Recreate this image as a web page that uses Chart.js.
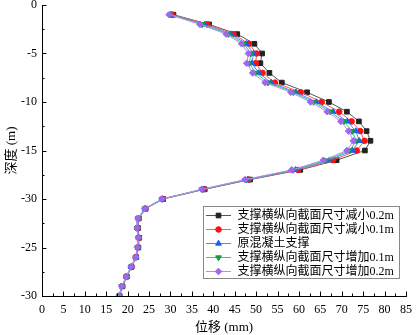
<!DOCTYPE html>
<html>
<head>
<meta charset="utf-8">
<script src="https://cdn.jsdelivr.net/npm/chart.js@4/dist/chart.umd.min.js"></script>
<style>
  html, body { margin: 0; padding: 0; background: #fff; }
  #wrap { width: 416px; height: 335px; position: relative; }
</style>
</head>
<body>
<div id="wrap"><canvas id="chart"></canvas></div>
<script>
// 深度 (m)
const depths = [-1, -2, -3, -4, -5, -6, -7, -8, -9, -10, -11, -12, -13, -14, -15,
  -16, -17, -18, -19, -20, -21, -22, -23, -24, -25, -26, -27, -28, -29, -30];

// 位移 (mm) для каждой серии
const minus02 = [30.7, 39.0, 45.6, 49.6, 51.4, 51.0, 53.1, 56.0, 61.9, 67.0, 71.2, 74.0, 75.8, 76.7, 75.4,
  68.8, 60.3, 48.6, 38.0, 28.3, 24.2, 22.6, 22.4, 22.7, 22.5, 22.0, 20.9, 19.8, 18.8, 18.1];
const minus01 = [30.4, 38.6, 44.7, 48.3, 50.1, 49.9, 51.5, 54.4, 60.4, 65.3, 69.4, 72.3, 74.3, 75.3, 73.5,
  67.9, 59.8, 48.3, 37.8, 28.2, 24.1, 22.5, 22.3, 22.6, 22.4, 21.9, 20.9, 19.7, 18.7, 18.1];
const original = [30.1, 38.0, 44.1, 47.7, 49.4, 49.0, 50.6, 53.5, 59.3, 64.1, 68.0, 71.3, 73.3, 74.1, 72.5,
  67.1, 59.2, 48.0, 37.6, 28.1, 24.1, 22.5, 22.3, 22.6, 22.4, 21.9, 20.8, 19.7, 18.7, 18.0];
const plus01 = [29.9, 37.4, 43.5, 47.1, 48.8, 48.4, 49.9, 52.8, 58.7, 63.4, 67.3, 70.5, 72.4, 73.4, 71.8,
  66.4, 58.7, 47.7, 37.4, 28.0, 24.0, 22.4, 22.2, 22.5, 22.3, 21.9, 20.8, 19.7, 18.6, 18.0];
const plus02 = [29.7, 36.9, 43.0, 46.6, 48.2, 47.8, 49.2, 52.1, 58.1, 62.7, 66.6, 69.8, 71.6, 72.7, 71.2,
  65.7, 58.3, 47.4, 37.3, 28.0, 24.0, 22.4, 22.2, 22.5, 22.3, 21.9, 20.8, 19.7, 18.6, 18.0];

const seriesNames = ['支撑横纵向截面尺寸减小0.2m', '支撑横纵向截面尺寸减小0.1m', '原混凝土支撑',
  '支撑横纵向截面尺寸增加0.1m', '支撑横纵向截面尺寸增加0.2m'];
const yTickLabels = ['0', '-5', '-10', '-15', '-30', '-25', '-30'];

const FONT = "'Liberation Serif', 'Noto Sans CJK SC', serif";

function toPoints(xs) {
  return xs.map((x, i) => ({ x: x, y: depths[i] }));
}

const styles = [
  { line: '#555555', mark: '#222222', shape: 'rect', r: 3.3, rot: 0 },
  { line: '#ff5a5a', mark: '#ff1010', shape: 'circle', r: 2.8, rot: 0 },
  { line: '#4a8cff', mark: '#1a5cff', shape: 'triangle', r: 3.3, rot: 0 },
  { line: '#3cc878', mark: '#0a9e3c', shape: 'triangle', r: 3.3, rot: 180 },
  { line: '#b58cf5', mark: '#a066ee', shape: 'rectRot', r: 3.3, rot: 0 }
];
const allSeries = [minus02, minus01, original, plus01, plus02];

const datasets = allSeries.map((xs, i) => ({
  label: seriesNames[i],
  data: toPoints(xs),
  borderColor: styles[i].line,
  borderWidth: 1,
  backgroundColor: styles[i].mark,
  pointBackgroundColor: styles[i].mark,
  pointBorderColor: styles[i].mark,
  pointBorderWidth: 1,
  pointStyle: styles[i].shape,
  pointRotation: styles[i].rot,
  pointRadius: styles[i].r,
  tension: 0,
  order: 4 - i
}));

// Засечки внутрь осей и легенда внутри области графика
const decorPlugin = {
  id: 'decor',
  afterDraw(chart) {
    const ctx = chart.ctx;
    const xs = chart.scales.x, ys = chart.scales.y;
    const area = chart.chartArea;
    ctx.save();
    ctx.strokeStyle = '#000';
    ctx.lineWidth = 1;
    ctx.beginPath();
    for (let v = 0; v <= 85; v += 2.5) {
      const px = Math.round(xs.getPixelForValue(v)) + 0.5;
      const len = v % 5 === 0 ? 4.5 : 2.5;
      ctx.moveTo(px, area.bottom);
      ctx.lineTo(px, area.bottom - len);
    }
    for (let v = -30; v <= 0; v += 2.5) {
      const py = Math.round(ys.getPixelForValue(v)) + 0.5;
      const len = v % 5 === 0 ? 4.5 : 2.5;
      ctx.moveTo(area.left, py);
      ctx.lineTo(area.left + len, py);
    }
    ctx.stroke();

    // легенда
    const bx = 203.5, by = 206.5, bw = 196, bh = 72;
    ctx.fillStyle = '#fff';
    ctx.fillRect(bx, by, bw, bh);
    ctx.strokeStyle = '#888';
    ctx.strokeRect(bx, by, bw, bh);
    ctx.font = '12px ' + FONT;
    ctx.textBaseline = 'middle';
    ctx.textAlign = 'left';
    seriesNames.forEach((name, i) => {
      const cy = 215 + i * 14;
      ctx.strokeStyle = styles[i].line;
      ctx.beginPath();
      ctx.moveTo(206, cy + 0.5);
      ctx.lineTo(231, cy + 0.5);
      ctx.stroke();
      ctx.fillStyle = styles[i].mark;
      ctx.strokeStyle = styles[i].mark;
      if (Chart.helpers && Chart.helpers.drawPoint) {
        Chart.helpers.drawPoint(ctx, {
          pointStyle: styles[i].shape, rotation: styles[i].rot,
          radius: styles[i].r, borderWidth: 1
        }, 218.5, cy + 0.5);
      }
      ctx.fillStyle = '#000';
      ctx.fillText(name, 237.5, cy + 1);
    });
    ctx.restore();
  }
};

new Chart(document.getElementById('chart'), {
  type: 'line',
  data: { datasets: datasets },
  options: {
    responsive: true,
    maintainAspectRatio: false,
    animation: false,
    layout: { padding: { top: 4, right: 10, left: 0, bottom: 0 } },
    plugins: {
      legend: { display: false },
      tooltip: { enabled: false }
    },
    scales: {
      x: {
        type: 'linear',
        min: 0,
        max: 85,
        grid: { display: false, drawTicks: false, tickLength: 0 },
        border: { display: true, color: '#000', width: 1 },
        ticks: {
          stepSize: 5,
          padding: 7,
          maxRotation: 0,
          autoSkip: false,
          color: '#000',
          font: { family: FONT, size: 12 }
        },
        title: {
          display: true,
          text: '位移 (mm)',
          color: '#000',
          padding: { top: 0, bottom: 0 },
          font: { family: FONT, size: 13 }
        },
        afterFit(s) { s.height = 39; s.paddingLeft = 0; s.paddingRight = 0; }
      },
      y: {
        type: 'linear',
        min: -30,
        max: 0,
        grid: { display: false, drawTicks: false, tickLength: 0 },
        border: { display: true, color: '#000', width: 1 },
        ticks: {
          stepSize: 5,
          padding: 5,
          autoSkip: false,
          color: '#000',
          font: { family: FONT, size: 12 },
          callback: (v) => yTickLabels[Math.round(-v / 5)]
        },
        title: {
          display: true,
          text: '深度 (m)',
          color: '#000',
          padding: { top: 4, bottom: 0 },
          font: { family: FONT, size: 13 }
        },
        afterFit(s) { s.width = 42; s.paddingTop = 0; s.paddingBottom = 0; }
      }
    }
  },
  plugins: [decorPlugin]
});
</script>
</body>
</html>
